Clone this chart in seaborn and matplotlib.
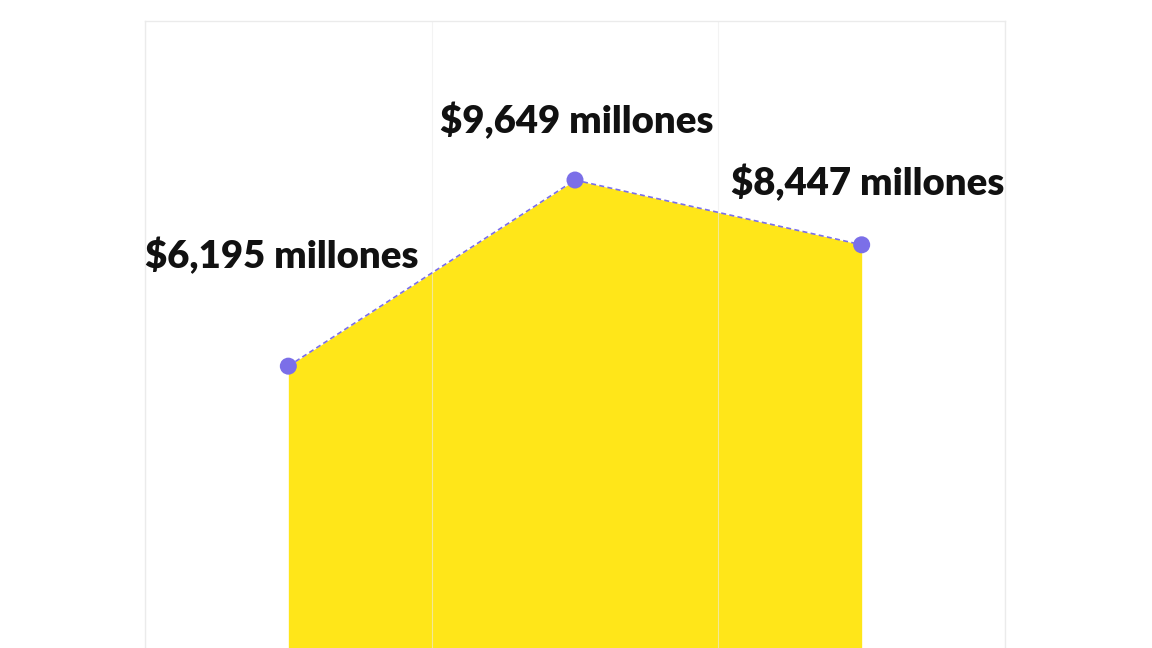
import matplotlib
matplotlib.use("Agg")
import matplotlib.pyplot as plt
import seaborn as sns
import pandas as pd

# data
positions = [0.5, 1.5, 2.5]
values = [6195, 9649, 8447]
labels = ["$6,195 millones", "$9,649 millones", "$8,447 millones"]

YELLOW = "#FFE619"
PURPLE = "#7B6FE8"
GRID = "#EBEBEB"

sns.set_style("white")
plt.rcParams["font.family"] = ["Lato", "DejaVu Sans"]

df = pd.DataFrame({"x": positions, "y": values})

fig = plt.figure(figsize=(11.52, 6.48), dpi=100)
ax = fig.add_axes([145 / 1152, 1 - 700 / 648, 860 / 1152, 679 / 648])

ax.fill_between(df["x"], df["y"], 0, color=YELLOW, linewidth=0, zorder=1)
sns.lineplot(data=df, x="x", y="y", ax=ax, color=PURPLE, linestyle=(0, (3, 2)),
             linewidth=1.2, zorder=3)
sns.scatterplot(data=df, x="x", y="y", ax=ax, color=PURPLE, s=150,
                edgecolor="none", zorder=4)

# labels above points
offsets = [(-5, 80), (1, 43), (4, 45)]
for x, y, lab, off in zip(positions, values, labels, offsets):
    ax.annotate(lab, (x, y), xytext=off, textcoords="offset points",
                ha="center", va="center", fontsize=27.5, fontweight="heavy",
                color="#111111", zorder=5)

ax.set_xlim(0, 3)
ax.set_ylim(0, 12600)
ax.set_xticks([0, 1, 2, 3])
ax.set_yticks([])
ax.grid(axis="x", color=GRID, linewidth=0.8, alpha=0.6, zorder=2)
ax.set_axisbelow(False)
ax.tick_params(length=0, labelbottom=False, labelleft=False)
ax.set_xlabel("")
ax.set_ylabel("")
for s in ax.spines.values():
    s.set_color(GRID)
    s.set_linewidth(1)

fig.savefig("out.png", dpi=100)
